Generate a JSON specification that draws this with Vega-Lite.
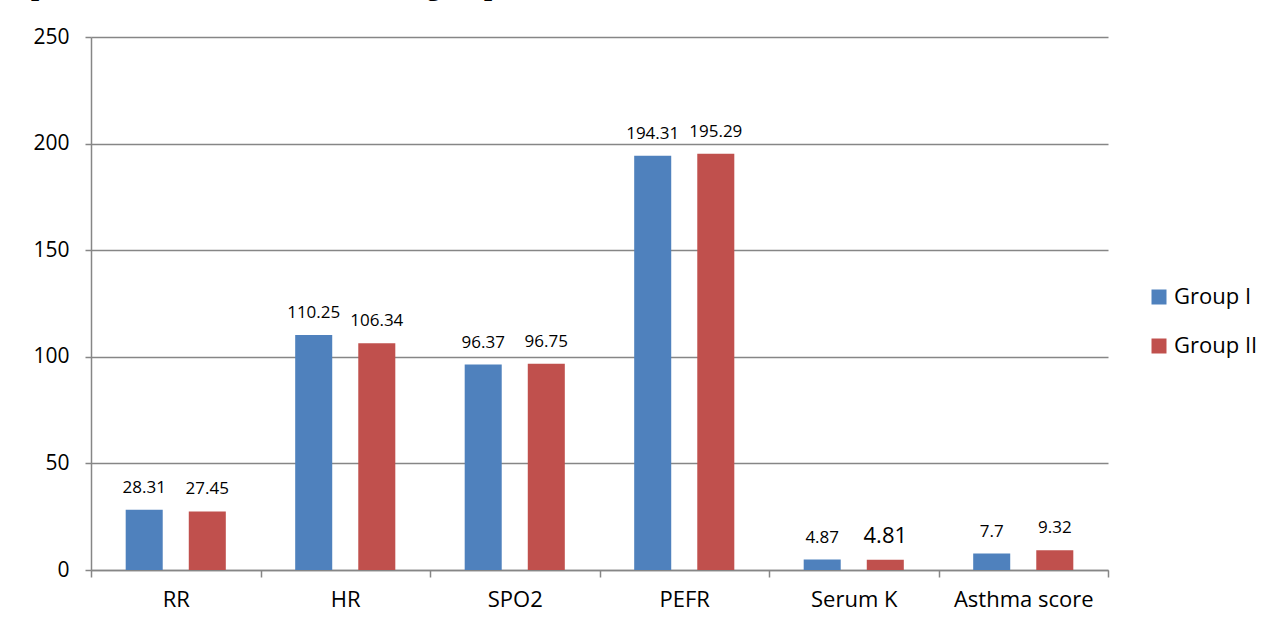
{
  "$schema": "https://vega.github.io/schema/vega-lite/v6.json",
  "width": 1017,
  "height": 533,
  "autosize": {"type": "none"},
  "padding": {"left": 91, "top": 37, "right": 169, "bottom": 59},
  "background": "white",
  "title": {
    "text": "Graph 1: Mean of variables in both groups",
    "anchor": "start",
    "frame": "group",
    "font": "Liberation Serif",
    "fontSize": 29,
    "fontWeight": "bold",
    "color": "black",
    "baseline": "alphabetic",
    "offset": 2,
    "dx": -110
  },
  "data": {
    "values": [
      {"metric": "RR", "group": "Group I", "value": 28.31},
      {"metric": "RR", "group": "Group II", "value": 27.45},
      {"metric": "HR", "group": "Group I", "value": 110.25},
      {"metric": "HR", "group": "Group II", "value": 106.34},
      {"metric": "SPO2", "group": "Group I", "value": 96.37},
      {"metric": "SPO2", "group": "Group II", "value": 96.75},
      {"metric": "PEFR", "group": "Group I", "value": 194.31},
      {"metric": "PEFR", "group": "Group II", "value": 195.29},
      {"metric": "Serum K", "group": "Group I", "value": 4.87},
      {"metric": "Serum K", "group": "Group II", "value": 4.81},
      {"metric": "Asthma score", "group": "Group I", "value": 7.7},
      {"metric": "Asthma score", "group": "Group II", "value": 9.32}
    ]
  },
  "encoding": {
    "x": {
      "field": "metric",
      "type": "nominal",
      "sort": ["RR", "HR", "SPO2", "PEFR", "Serum K", "Asthma score"],
      "scale": {"paddingInner": 0, "paddingOuter": 0},
      "axis": {
        "title": null,
        "labelAngle": 0,
        "labelFont": "Open Sans",
        "labelFontSize": 22,
        "labelColor": "black",
        "labelPadding": 12,
        "tickBand": "extent",
        "tickSize": 7,
        "tickColor": "#868686",
        "domainColor": "#868686",
        "domainWidth": 1.5,
        "tickWidth": 1.5,
        "grid": false
      }
    },
    "xOffset": {
      "field": "group",
      "type": "nominal",
      "scale": {"paddingInner": 0.413, "paddingOuter": 0.55}
    },
    "y": {
      "field": "value",
      "type": "quantitative",
      "scale": {"domain": [0, 250], "nice": false},
      "axis": {
        "title": null,
        "values": [0, 50, 100, 150, 200, 250],
        "labelFont": "Open Sans",
        "labelFontSize": 21,
        "labelColor": "black",
        "labelPadding": 16,
        "tickSize": 6,
        "tickColor": "#868686",
        "domainColor": "#868686",
        "domainWidth": 1.5,
        "tickWidth": 1.5,
        "gridColor": "#868686",
        "gridWidth": 1.5
      }
    }
  },
  "layer": [
    {
      "mark": {"type": "bar"},
      "encoding": {
        "color": {
          "field": "group",
          "type": "nominal",
          "scale": {"domain": ["Group I", "Group II"], "range": ["#4F81BD", "#C0504D"]},
          "legend": {
            "title": null,
            "orient": "none",
            "legendX": 1057,
            "legendY": 249,
            "symbolType": "square",
            "symbolSize": 225,
            "symbolStrokeWidth": 0,
            "labelFont": "Open Sans",
            "labelFontSize": 22,
            "labelColor": "black",
            "labelOffset": 4,
            "rowPadding": 27
          }
        }
      }
    },
    {
      "mark": {"type": "text", "baseline": "alphabetic", "dy": -17, "font": "Open Sans", "color": "black"},
      "encoding": {
        "text": {"field": "value", "type": "quantitative"},
        "size": {
          "condition": {"test": "datum.metric === 'Serum K' && datum.group === 'Group II'", "value": 22},
          "value": 17
        }
      }
    }
  ],
  "config": {
    "view": {"stroke": null}
  }
}
